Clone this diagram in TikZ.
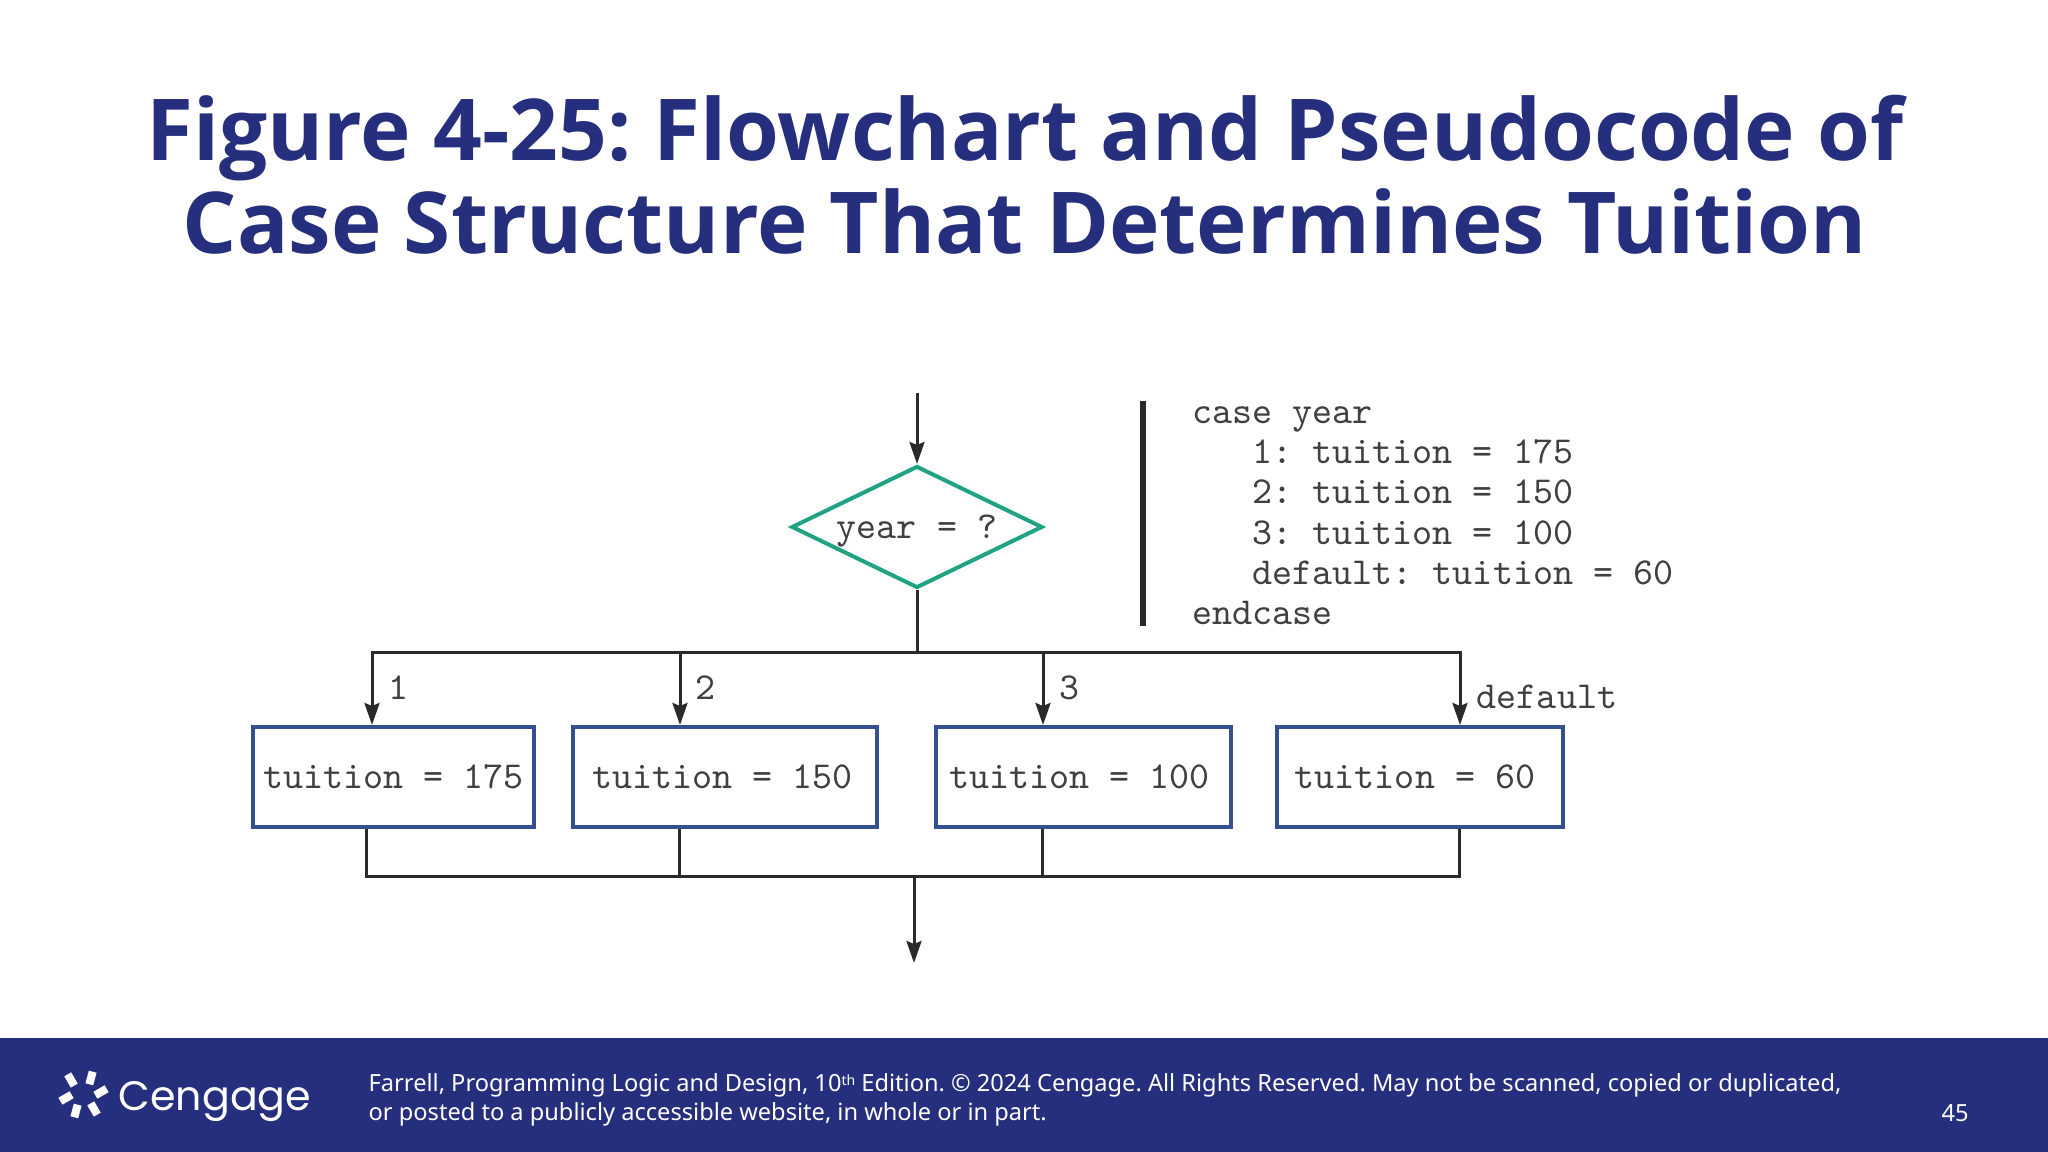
\documentclass[tikz,border=0pt]{standalone}
\usepackage{fontspec}
\setmainfont{Noto Sans}
\newfontfamily\titlefont{Open Sans}
\newfontfamily\logofont{Poppins}
\frenchspacing
\usetikzlibrary{arrows.meta,shapes.geometric}
\definecolor{slideblue}{HTML}{262F7D}
\definecolor{linegrey}{HTML}{2A2A2A}
\definecolor{codegrey}{HTML}{404040}
\definecolor{decidegreen}{HTML}{1FA383}
\definecolor{boxblue}{HTML}{34508F}
\tikzset{
  codetext/.style={text=codegrey, inner sep=0pt, font=\ttfamily\fontsize{10.85}{11.45}\selectfont},
  flowline/.style={draw=linegrey, line width=0.03cm},
  tuitionbox/.style={draw=boxblue, line width=0.04cm, minimum height=1.0cm, inner sep=0pt, codetext}
}
\begin{document}
\begin{tikzpicture}[>={Stealth[length=0.22cm,width=0.15cm,inset=0.03cm]}]
\useasboundingbox (0,0) rectangle (20.48,11.52);
\fill[white] (0,0) rectangle (20.48,11.52);
\fill[slideblue] (0,0) rectangle (20.48,1.14);
\node[align=center, text=slideblue, font=\titlefont\bfseries\fontsize{24.3}{26.4}\selectfont] (title) at (10.25,9.77) {Figure 4-25: Flowchart and Pseudocode of\\Case Structure That Determines Tuition};
\node[draw=decidegreen, line width=0.04cm, diamond, aspect=2.06, minimum width=2.51cm, minimum height=1.22cm, inner sep=0pt, codetext, text depth=0pt] (year) at (9.17,6.25) {year = ?};
\node[tuitionbox, minimum width=2.81cm] (tuition1) at (3.935,3.75) {tuition = 175};
\node[tuitionbox, minimum width=3.04cm] (tuition2) at (7.25,3.75) {tuition = 150\hspace*{0.05cm}};
\node[tuitionbox, minimum width=2.95cm] (tuition3) at (10.835,3.75) {tuition = 100\hspace*{0.08cm}};
\node[tuitionbox, minimum width=2.86cm] (tuition4) at (14.20,3.75) {tuition = 60\hspace*{0.10cm}};
\coordinate (start) at (9.17,7.59);
\coordinate (bus) at (9.17,4.99);
\coordinate (bus1) at (3.72,4.99);
\coordinate (bus2) at (6.80,4.99);
\coordinate (bus3) at (10.43,4.99);
\coordinate (bus4) at (14.60,4.99);
\coordinate (merge) at (9.14,2.75);
\coordinate (merge1) at (3.66,2.75);
\coordinate (merge2) at (6.795,2.75);
\coordinate (merge3) at (10.42,2.75);
\coordinate (merge4) at (14.59,2.75);
\coordinate (finish) at (9.14,1.89);
\draw[flowline, ->] (start) -- (year);
\draw[flowline] (year) -- (bus);
\draw[flowline] (bus2) -- (bus3);
\draw[flowline, ->] (bus3) -- (bus4) -- (bus4 |- tuition4.north);
\draw[flowline, ->] (bus2) -- (bus1) -- (bus1 |- tuition1.north);
\draw[flowline, ->] (bus2) -- (bus2 |- tuition2.north);
\draw[flowline, ->] (bus3) -- (bus3 |- tuition3.north);
\draw[flowline] (merge1 |- tuition1.south) -- (merge1) -- (merge4) -- (merge4 |- tuition4.south);
\draw[flowline] (merge2 |- tuition2.south) -- (merge2);
\draw[flowline] (merge3 |- tuition3.south) -- (merge3);
\draw[flowline, ->] (merge) -- (finish);
\node[codetext, anchor=base] (case1) at (3.99,4.52) {1};
\node[codetext, anchor=base] (case2) at (7.06,4.52) {2};
\node[codetext, anchor=base] (case3) at (10.70,4.52) {3};
\node[codetext, anchor=base] (casedefault) at (15.47,4.43) {default};
\coordinate (bartop) at (11.43,7.51);
\coordinate (barbottom) at (11.43,5.26);
\draw[draw=linegrey, line width=0.06cm] (bartop) -- (barbottom);
\node[codetext, anchor=north west, align=left] (pseudocode) at (11.92,7.46) {case year\\\ \ \ 1: tuition = 175\\\ \ \ 2: tuition = 150\\\ \ \ 3: tuition = 100\\\ \ \ default: tuition = 60\\endcase};
\foreach \lx/\ly/\la in {0.71/0.72/30, 0.91/0.74/-15, 1.01/0.60/-60, 0.94/0.43/30, 0.76/0.41/-15, 0.66/0.54/-60}
  \fill[white, shift={(\lx,\ly)}, rotate=\la] (-0.04,-0.065) rectangle (0.04,0.065);
\node[anchor=base west, inner sep=0pt, text=white, font=\logofont\fontsize{11.7}{14}\selectfont] (cengage) at (1.18,0.41) {Cengage};
\node[anchor=base west, inner sep=0pt, text=white, font=\fontsize{6.72}{8}\selectfont] (credit1) at (3.68,0.60) {Farrell, Programming Logic and Design, 10{\fontsize{4}{4}\selectfont\raisebox{0.9ex}{th}} Edition. © 2024 Cengage. All Rights Reserved. May not be scanned, copied or duplicated,};
\node[anchor=base west, inner sep=0pt, text=white, font=\fontsize{6.72}{8}\selectfont] (credit2) at (3.68,0.31) {or posted to a publicly accessible website, in whole or in part.};
\node[inner sep=0pt, text=white, font=\fontsize{6.72}{8}\selectfont] (pagenum) at (19.55,0.39) {45};
\end{tikzpicture}
\end{document}
